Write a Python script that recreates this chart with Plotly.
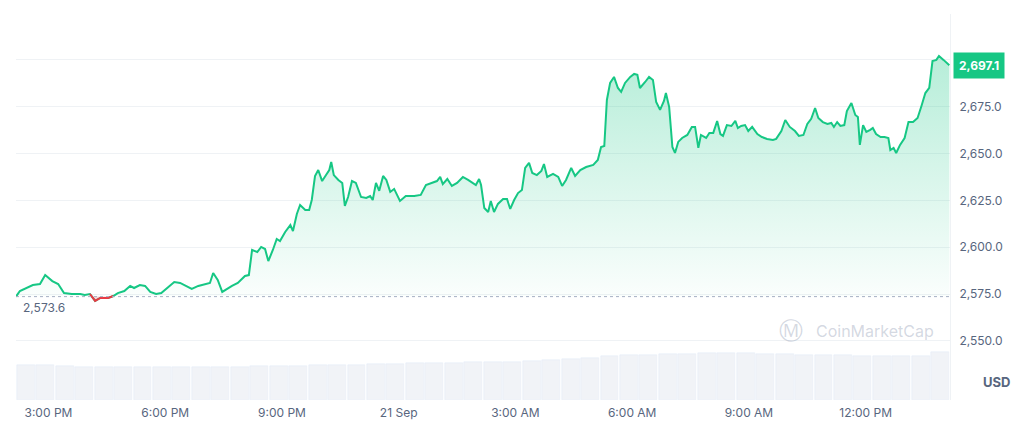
import plotly.graph_objects as go
import pandas as pd

start = pd.Timestamp("2024-09-20 14:10")
base_price = 2573.6

minutes = [0,6,26,37,45,56,65,74,86,99,106,114,122,130,142,150,157,167,176,182,191,199,207,216,224,233,244,253,262,271,281,291,299,304,311,318,325,333,342,353,359,364,372,378,384,389,396,402,407,415,423,427,433,438,446,452,456,461,466,472,478,483,486,490,497,503,507,512,518,524,532,540,546,550,555,560,566,571,577,583,592,601,614,624,632,641,649,654,658,665,672,680,689,697,703,709,714,717,722,728,732,737,743,751,757,762,768,774,780,785,791,796,803,810,814,819,828,836,842,848,856,862,870,879,890,897,902,907,911,916,922,928,933,939,947,953,958,962,970,976,982,987,993,999,1002,1007,1012,1016,1021,1027,1035,1042,1047,1052,1056,1064,1069,1075,1081,1086,1090,1096,1103,1109,1113,1118,1124,1129,1135,1143,1150,1158,1167,1172,1180,1186,1193,1201,1207,1214,1220,1226,1232,1237,1244,1251,1257,1261,1266,1271,1277,1281,1288,1294,1298,1301,1306,1311,1317,1321,1326,1333,1339,1345,1348,1353,1357,1363,1370,1376,1383,1390,1396,1402,1408,1413,1419,1423,1430,1439]
prices = [2573.6,2576.6,2579.8,2580.3,2585.1,2581.9,2580.3,2575.5,2575.0,2575.0,2574.5,2575.0,2571.3,2572.9,2572.9,2573.9,2575.5,2576.6,2579.3,2578.2,2579.8,2579.3,2576.1,2575.0,2575.5,2578.2,2581.4,2580.9,2579.3,2577.7,2579.3,2580.3,2580.9,2586.2,2582.5,2576.1,2577.7,2579.3,2580.9,2584.6,2585.1,2598.5,2597.4,2600.1,2599.0,2592.6,2598.5,2604.4,2603.3,2608.1,2611.8,2608.6,2617.7,2622.5,2619.9,2619.9,2625.2,2638.0,2641.2,2635.3,2638.5,2641.2,2645.5,2638.5,2635.9,2634.3,2622.0,2626.8,2635.3,2634.3,2626.8,2626.3,2627.3,2625.2,2634.3,2630.1,2638.0,2635.9,2629.5,2631.1,2624.7,2627.3,2627.3,2627.9,2633.2,2634.3,2635.3,2637.5,2633.7,2636.4,2632.7,2634.3,2637.5,2635.9,2634.3,2633.2,2636.4,2633.2,2620.9,2618.8,2624.7,2618.8,2623.1,2625.7,2625.7,2620.4,2625.2,2628.9,2630.5,2642.3,2645.0,2639.6,2638.5,2640.7,2644.4,2637.5,2639.1,2637.5,2632.7,2635.9,2642.3,2638.0,2641.2,2642.8,2643.9,2646.6,2653.5,2654.0,2678.6,2687.7,2690.9,2685.0,2682.9,2687.7,2690.9,2692.5,2692.0,2685.0,2688.2,2690.9,2689.3,2677.5,2673.3,2678.1,2682.3,2674.9,2653.5,2650.3,2656.2,2658.3,2659.9,2664.2,2664.2,2653.0,2659.9,2658.3,2661.0,2661.0,2667.4,2660.4,2659.4,2665.2,2664.7,2667.4,2663.6,2664.7,2665.2,2662.0,2664.2,2660.4,2658.8,2657.8,2657.2,2657.8,2662.0,2667.9,2664.2,2662.0,2659.4,2659.9,2665.8,2668.5,2674.3,2669.0,2666.8,2665.8,2666.3,2664.2,2666.8,2664.7,2665.2,2672.7,2677.0,2670.6,2669.5,2654.6,2665.2,2661.5,2662.6,2663.6,2660.4,2658.8,2658.8,2658.3,2651.9,2653.0,2650.3,2654.6,2658.3,2666.8,2666.8,2669.0,2675.4,2682.3,2685.0,2699.4,2700.0,2702.1,2700.0,2697.1]
volumes = [36,36,35,34,34,34,34,34,34,34,34,34,35,35,35,36,36,36,37,37,38,38,38,39,39,39,40,41,42,44,46,47,47,48,48,49,49,49,48,48,47,47,47,46,46,46,46,50]
tick_times = ["2024-09-20 15:00","2024-09-20 18:00","2024-09-20 21:00","2024-09-21 00:00","2024-09-21 03:00","2024-09-21 06:00","2024-09-21 09:00","2024-09-21 12:00"]
tick_labels = ["3:00 PM","6:00 PM","9:00 PM","21 Sep","3:00 AM","6:00 AM","9:00 AM","12:00 PM"]
y_ticks = [2550,2575,2600,2625,2650,2675,2700]
y_labels = ["2,550.0","2,575.0","2,600.0","2,625.0","2,650.0","2,675.0",""]

times = [start + pd.Timedelta(minutes=m) for m in minutes]
vol_times = [start + pd.Timedelta(minutes=15 + 30*i) for i in range(len(volumes))]
end = start + pd.Timedelta(minutes=1440)
green = "#16c784"; red = "#ea3943"; gray = "#58667e"

red_prices = []
for i, p in enumerate(prices):
    neigh = [prices[j] for j in (i-1, i, i+1) if 0 <= j < len(prices)]
    red_prices.append(p if min(neigh) < base_price else None)

fig = go.Figure()
fig.add_trace(go.Bar(x=vol_times, y=volumes, yaxis="y2", marker_color="rgba(207,214,228,0.3)",
                     width=30*60*1000*0.92, hoverinfo="skip"))
fig.add_trace(go.Scatter(x=times, y=[base_price]*len(times), mode="lines", line=dict(width=0), hoverinfo="skip"))
fig.add_trace(go.Scatter(x=times, y=[max(p, base_price) for p in prices], mode="lines", line=dict(width=0),
                         fill="tonexty",
                         fillgradient=dict(type="vertical", start=base_price, stop=2705,
                                           colorscale=[[0, "rgba(22,199,132,0.02)"], [1, "rgba(22,199,132,0.32)"]]),
                         hoverinfo="skip"))
fig.add_trace(go.Scatter(x=times, y=[base_price]*len(times), mode="lines", line=dict(width=0), hoverinfo="skip"))
fig.add_trace(go.Scatter(x=times, y=[min(p, base_price) for p in prices], mode="lines", line=dict(width=0),
                         fill="tonexty", fillcolor="rgba(234,57,67,0.2)", hoverinfo="skip"))
fig.add_trace(go.Scatter(x=times, y=prices, mode="lines", line=dict(color=green, width=2)))
fig.add_trace(go.Scatter(x=times, y=red_prices, mode="lines", line=dict(color=red, width=2), connectgaps=False))

fig.add_shape(type="line", xref="paper", x0=0, x1=1, yref="y", y0=base_price, y1=base_price,
              line=dict(color="#a6b0c3", width=1, dash="dot"))
fig.add_annotation(xref="paper", x=0.005, yref="y", y=base_price, text="2,573.6", showarrow=False,
                   xanchor="left", yanchor="top", yshift=-1, bgcolor="white",
                   font=dict(color=gray, size=12, family="Inter"))
fig.add_annotation(xref="paper", x=1.003, yref="y", y=prices[-1], text="<b>2,697.1</b>", showarrow=False,
                   xanchor="left", bgcolor=green, borderpad=5, font=dict(color="white", size=12, family="Inter"))
fig.add_annotation(xref="paper", x=1.05, yref="paper", y=0.02, text="<b>USD</b>", showarrow=False,
                   xanchor="center", font=dict(color=gray, size=13, family="Inter"))
fig.add_annotation(xref="paper", x=0.985, yref="y", y=2555, text="CoinMarketCap", showarrow=False,
                   xanchor="right", font=dict(color="rgba(160,170,190,0.45)", size=16, family="Inter"))
fig.add_annotation(xref="paper", x=0.845, yref="y", y=2555, text="Ⓜ", showarrow=False,
                   xanchor="right", font=dict(color="rgba(160,170,190,0.45)", size=24, family="DejaVu Sans"))

fig.update_layout(
    width=1029, height=424, margin=dict(l=8, r=87, t=6, b=32),
    plot_bgcolor="white", paper_bgcolor="white", showlegend=False, bargap=0,
    font=dict(family="Inter", color=gray, size=12),
    xaxis=dict(range=[start, end], tickvals=tick_times, ticktext=tick_labels, showgrid=False,
               showline=False, zeroline=False, ticks="", automargin=False, ticklabelstandoff=4),
    yaxis=dict(side="right", range=[2518.4, 2724.5], tickvals=y_ticks, ticktext=y_labels,
               gridcolor="#eff2f5", showline=True, linecolor="#eff2f5", zeroline=False,
               ticklabelstandoff=6, tickfont=dict(size=12), automargin=False),
    yaxis2=dict(overlaying="y", range=[0, 400], visible=False),
)
fig.write_html("out.html")
